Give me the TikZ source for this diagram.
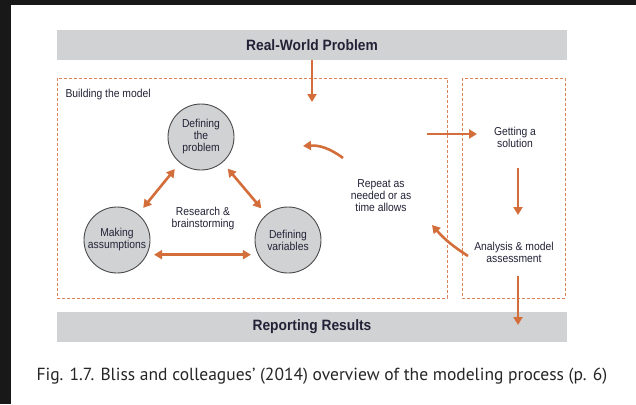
\documentclass[tikz,border=0pt]{standalone}
\usepackage{fontspec}
\setmainfont{Liberation Sans}
\newfontfamily\narrowfont[FakeStretch=0.9]{Liberation Sans}
\newfontfamily\barfont[FakeStretch=0.92]{Liberation Sans}
\newfontfamily\captionfont{PT Sans}
\usetikzlibrary{arrows.meta}
\definecolor{rust}{RGB}{211,109,58}
\definecolor{bargray}{RGB}{209,210,212}
\definecolor{ink}{RGB}{34,34,54}
\definecolor{slide}{RGB}{24,24,24}
\tikzset{
  bar/.style={fill=bargray, minimum width=510pt, minimum height=30pt, text=ink,
    font=\barfont\bfseries\fontsize{15}{17}\selectfont},
  stage/.style={circle, draw=black!70, line width=0.9pt, fill=bargray, minimum size=66pt,
    inner sep=0pt, align=center, text=ink, font=\narrowfont\fontsize{11.5}{12}\selectfont},
  lbl/.style={align=center, text=ink, font=\narrowfont\fontsize{11.5}{12}\selectfont},
  flow/.style={draw=rust, line width=2.6pt, -{Triangle[length=8pt,width=9pt]}},
  twoway/.style={flow, {Triangle[length=8pt,width=9pt]}-{Triangle[length=8pt,width=9pt]}},
  frame/.style={draw=rust!85, line width=0.9pt, dash pattern=on 3pt off 2pt}
}
\begin{document}
\begin{tikzpicture}[x=1pt, y=-1pt]
        \useasboundingbox (0,0) rectangle (636,404) ;
        \fill[slide] (0,0) rectangle (636,404) ;
        \fill[white] (11,5) rectangle (636,404) ;

        \node[bar] (world) at (312,45) {Real-World Problem} ;
        \node[bar] (report) at (312,327) {Reporting Results} ;
        \draw[frame] (57,78) rectangle (447,298) ;
        \draw[frame] (462,78) rectangle (565,298) ;

        \node[lbl, anchor=west] (build) at (62,95) {Building the model} ;
        \node[stage] (problem) at (201,137) {Defining\\the\\problem} ;
        \node[stage] (assume) at (117,240) {Making\\assumptions} ;
        \node[stage] (vars) at (288,240) {Defining\\variables} ;
        \node[lbl] (research) at (203,219) {Research \&\\brainstorming} ;
        \node[lbl] (repeat) at (381,196) {Repeat as\\needed or as\\time allows} ;
        \node[lbl] (solution) at (515,137) {Getting a\\solution} ;
        \node[lbl] (analysis) at (514,252) {Analysis \& model\\assessment} ;

        \coordinate (entry) at (312,102) ;
        \coordinate (exit) at (427,134) ;
        \coordinate (loopin) at (343,158) ;
        \coordinate (loopout) at (303,146) ;
        \coordinate (back) at (432,225) ;

        \draw[flow] (world.south) -- (entry) ;
        \draw[twoway, shorten <=8pt, shorten >=8pt] (problem) -- (assume) ;
        \draw[twoway, shorten <=8pt, shorten >=8pt] (problem) -- (vars) ;
        \draw[twoway, shorten <=7pt, shorten >=7pt] (assume.-26) -- (vars.206) ;
        \draw[flow] (loopin) to[bend right=20] (loopout) ;
        \draw[flow] (exit) -- (exit -| 477,0) ;
        \draw[flow, shorten <=31pt, shorten >=37pt] ([xshift=3pt]solution.center) -- ([xshift=4pt]analysis.center) ;
        \draw[flow] ([xshift=-46pt,yshift=-4pt]analysis.center) to[bend left=8] (back) ;
        \draw[flow, shorten <=24pt, shorten >=2pt] ([xshift=4pt]analysis.center) -- ([xshift=4pt]analysis.center |- report.center) ;

        \node[anchor=west, text=black!85, font=\captionfont\fontsize{17.5}{19}\selectfont] (caption) at (33,376)
            {Fig. 1.7. Bliss and colleagues’ (2014) overview of the modeling process (p. 6)} ;
\end{tikzpicture}
\end{document}
